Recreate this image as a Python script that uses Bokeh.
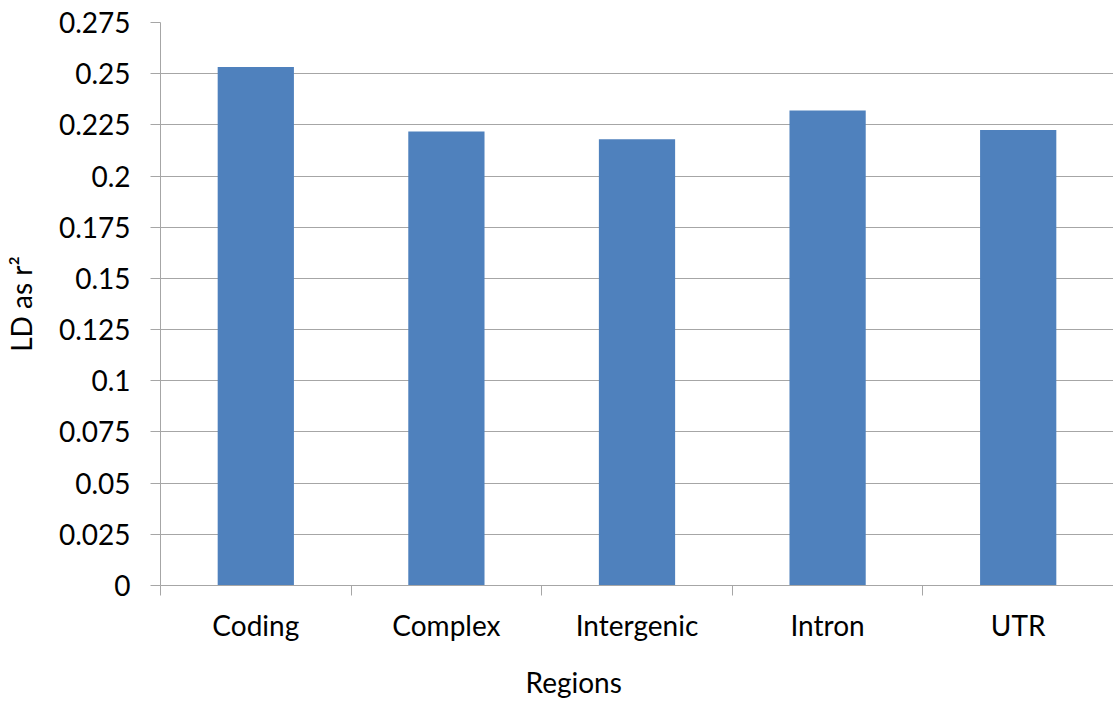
from bokeh.plotting import figure
from bokeh.models import FixedTicker, CustomJSTickFormatter, Range1d, Title, ColumnDataSource
from bokeh.embed import file_html
from bokeh.resources import INLINE

categories = ["Coding", "Complex", "Intergenic", "Intron", "UTR"]
ld_values = [0.2533, 0.2218, 0.2180, 0.2320, 0.2225]
y_ticks = [0, 0.025, 0.05, 0.075, 0.1, 0.125, 0.15, 0.175, 0.2, 0.225, 0.25, 0.275]

FONT = "Lato"
GRID = "#a6a6a6"
FS = "28px"

xs = [i + 0.5 for i in range(len(categories))]
src = ColumnDataSource(dict(x=xs, top=ld_values))

p = figure(width=1113, height=717, output_backend="svg", toolbar_location=None,
           x_range=Range1d(0, len(categories)), y_range=Range1d(0, 0.275),
           min_border_left=160, min_border_right=0, min_border_top=22, min_border_bottom=132)
p.outline_line_color = None
p.background_fill_color = "white"
p.border_fill_color = "white"

p.vbar(x="x", top="top", width=0.4, bottom=0, source=src, fill_color="#4f81bd", line_color=None)

# x axis: labels at centres, ticks at boundaries
p.xaxis.ticker = FixedTicker(ticks=xs, minor_ticks=list(range(len(categories) + 1)))
p.xaxis.major_label_overrides = {x: c for x, c in zip(xs, categories)}
p.xaxis.major_tick_line_color = None
p.xaxis.major_tick_out = 0
p.xaxis.major_tick_in = 0
p.xaxis.minor_tick_line_color = GRID
p.xaxis.minor_tick_out = 10
p.xaxis.minor_tick_in = 0
p.xaxis.axis_line_color = GRID
p.xaxis.major_label_standoff = 12
p.xaxis.major_label_text_font = FONT
p.xaxis.major_label_text_font_size = FS
p.xaxis.major_label_text_color = "black"
p.xgrid.grid_line_color = None

# y axis
p.yaxis.ticker = FixedTicker(ticks=y_ticks)
p.yaxis.formatter = CustomJSTickFormatter(code="return tick.toFixed(3).replace(/0+$/,'').replace(/\\.$/,'');")
p.yaxis.major_tick_line_color = GRID
p.yaxis.major_tick_out = 10
p.yaxis.major_tick_in = 0
p.yaxis.minor_tick_line_color = None
p.yaxis.axis_line_color = GRID
p.yaxis.major_label_standoff = 20
p.yaxis.major_label_text_font = FONT
p.yaxis.major_label_text_font_size = FS
p.yaxis.major_label_text_color = "black"
p.yaxis.axis_label = "LD as r\u00b2"
p.yaxis.axis_label_text_font = FONT
p.yaxis.axis_label_text_font_size = FS
p.yaxis.axis_label_text_font_style = "normal"
p.yaxis.axis_label_text_color = "black"
p.yaxis.axis_label_standoff = 18
p.ygrid.grid_line_color = GRID
p.ygrid.grid_line_width = 1

p.add_layout(Title(text="Regions", align="left", offset=365, text_font=FONT, text_font_size=FS,
                   text_font_style="normal", text_color="black", standoff=36,
                   vertical_align="bottom"), "below")

open("out.html", "w").write(file_html(p, INLINE))
